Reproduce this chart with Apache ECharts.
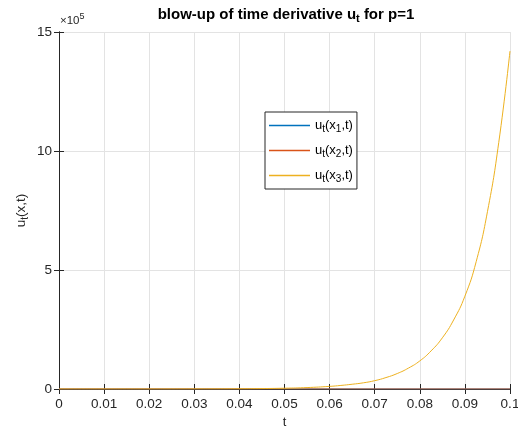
<!DOCTYPE html>
<html>
<head>
<meta charset="utf-8">
<script src="https://cdn.jsdelivr.net/npm/echarts@6/dist/echarts.min.js"></script>
<style>
html,body{margin:0;padding:0;background:#fff;overflow:hidden;}
#chart{width:518px;height:428px;}
</style>
</head>
<body>
<div id="chart"></div>
<script>
// time points t
const tValues = [0, 0.005, 0.01, 0.015, 0.02, 0.025, 0.03, 0.035, 0.04, 0.045, 0.05, 0.055,
  0.06, 0.0625, 0.065, 0.0675, 0.07, 0.0725, 0.075, 0.0775, 0.08, 0.0825, 0.085, 0.0875,
  0.09, 0.0925, 0.095, 0.0975, 0.1];
// u_t(x1,t), u_t(x2,t), u_t(x3,t)
const u1Values = [0,0,0,0,0,0,0,0,0,0,0,0, 0,0,0,0,0,0,0,0,0,0,0,0, 0,0,0,0,0];
const u2Values = [0,0,0,0,0,0,0,0,0,0,0,0, 0,0,0,0,0,0,0,0,0,0,0,0, 0,0,0,0,0];
const u3Values = [0, 0, 0, 0, 0, 100, 300, 500, 1000, 1800, 3300, 6000,
  11000, 15000, 20000, 26000, 35000, 48000, 65000, 88000, 118000, 160000, 215000, 290000,
  390000, 535000, 745000, 1035000, 1420000];
const xTicks = [0, 0.01, 0.02, 0.03, 0.04, 0.05, 0.06, 0.07, 0.08, 0.09, 0.1];
const yTicks = [0, 500000, 1000000, 1500000];
const seriesNames = ['u1', 'u2', 'u3'];

const FONT = 'Liberation Sans, Arial, Helvetica, sans-serif';
const AX = '#262626';
const colors = ['#0072BD', '#D95319', '#EDB120'];

const chart = echarts.init(document.getElementById('chart'), null, {renderer: 'canvas'});

function pairs(ys) { return tValues.map((t, i) => [t, ys[i]]); }

const legendRich = {
  n: {fontFamily: FONT, fontSize: 13, color: '#000', lineHeight: 15},
  s: {fontFamily: FONT, fontSize: 10, color: '#000', padding: [7, 0, 0, 0], lineHeight: 15}
};
const legendLabels = {
  u1: '{n|u}{s|t}{n|(x}{s|1}{n|,t)}',
  u2: '{n|u}{s|t}{n|(x}{s|2}{n|,t)}',
  u3: '{n|u}{s|t}{n|(x}{s|3}{n|,t)}'
};

const baseX = {
  type: 'value', min: xTicks[0], max: xTicks[xTicks.length - 1], interval: 0.01,
  axisLine: {show: true, lineStyle: {color: AX, width: 1}},
  axisTick: {show: true, inside: true, length: 5, lineStyle: {color: AX}},
  splitLine: {show: false}
};
const baseY = {
  type: 'value', min: yTicks[0], max: yTicks[yTicks.length - 1], interval: 500000,
  axisLine: {show: true, lineStyle: {color: AX, width: 1}},
  axisTick: {show: true, inside: true, length: 5, lineStyle: {color: AX}},
  splitLine: {show: false}
};

chart.setOption({
  animation: false,
  backgroundColor: '#fff',
  title: {
    text: '{b|blow-up of time derivative u}{bs|t}{b| for p=1}',
    left: 281, top: 1, textAlign: 'center',
    textStyle: {
      rich: {
        b: {fontFamily: FONT, fontSize: 15, fontWeight: 'bold', color: '#000', lineHeight: 18},
        bs: {fontFamily: FONT, fontSize: 11, fontWeight: 'bold', color: '#000', padding: [8, 0, 0, 0], lineHeight: 18}
      }
    }
  },
  grid: {left: 59, right: 8, top: 32, bottom: 39, containLabel: false, outerBoundsMode: 'none'},
  legend: {
    orient: 'vertical', left: 265, top: 112,
    icon: 'rect', itemWidth: 41, itemHeight: 1.5, itemGap: 8,
    padding: [5, 4, 5, 4],
    borderColor: AX, borderWidth: 1, backgroundColor: '#fff',
    data: seriesNames,
    formatter: name => legendLabels[name],
    textStyle: {rich: legendRich}
  },
  xAxis: [
    Object.assign({}, baseX, {
      position: 'bottom',
      name: 't', nameLocation: 'middle', nameGap: 27, nameMoveOverlap: false,
      nameTextStyle: {fontFamily: FONT, fontSize: 13, color: AX},
      axisLabel: {fontFamily: FONT, fontSize: 13.5, color: AX, margin: 8,
        formatter: v => String(+v.toFixed(3))},
      splitLine: {show: true, lineStyle: {color: '#e3e3e3', width: 1}}
    }),
    Object.assign({}, baseX, {position: 'top', axisLabel: {show: false}})
  ],
  yAxis: [
    Object.assign({}, baseY, {
      position: 'left',
      name: '{n|u}{s|t}{n|(x,t)}', nameLocation: 'middle', nameGap: 30, nameRotate: 90,
      nameMoveOverlap: false,
      nameTextStyle: {rich: {
        n: {fontFamily: FONT, fontSize: 13.5, color: AX, lineHeight: 16},
        s: {fontFamily: FONT, fontSize: 10, color: AX, padding: [8, 0, 0, 0], lineHeight: 16}
      }},
      axisLabel: {fontFamily: FONT, fontSize: 13.5, color: AX, margin: 7,
        formatter: v => String(Math.round(v / 100000))},
      splitLine: {show: true, lineStyle: {color: '#e3e3e3', width: 1}}
    }),
    Object.assign({}, baseY, {position: 'right', axisLabel: {show: false}})
  ],
  graphic: [{
    type: 'text', left: 60, top: 11,
    style: {
      text: '{m|×10}{p|5}',
      rich: {
        m: {fontFamily: FONT, fontSize: 11.5, fill: AX, lineHeight: 14, padding: [4, 0, 0, 0]},
        p: {fontFamily: FONT, fontSize: 9, fill: AX, lineHeight: 14, padding: [0, 0, 5, 0]}
      }
    }
  }],
  series: [
    {name: 'u1', type: 'line', data: pairs(u1Values), showSymbol: false, symbol: 'none',
      lineStyle: {color: colors[0], width: 1.2}, itemStyle: {color: colors[0]}, z: 2},
    {name: 'u2', type: 'line', data: pairs(u2Values), showSymbol: false, symbol: 'none',
      lineStyle: {color: colors[1], width: 1.2}, itemStyle: {color: colors[1]}, z: 3},
    {name: 'u3', type: 'line', data: pairs(u3Values), showSymbol: false, symbol: 'none',
      smooth: 0.5,
      lineStyle: {color: colors[2], width: 1}, itemStyle: {color: colors[2]}, z: 4}
  ]
});
</script>
</body>
</html>
